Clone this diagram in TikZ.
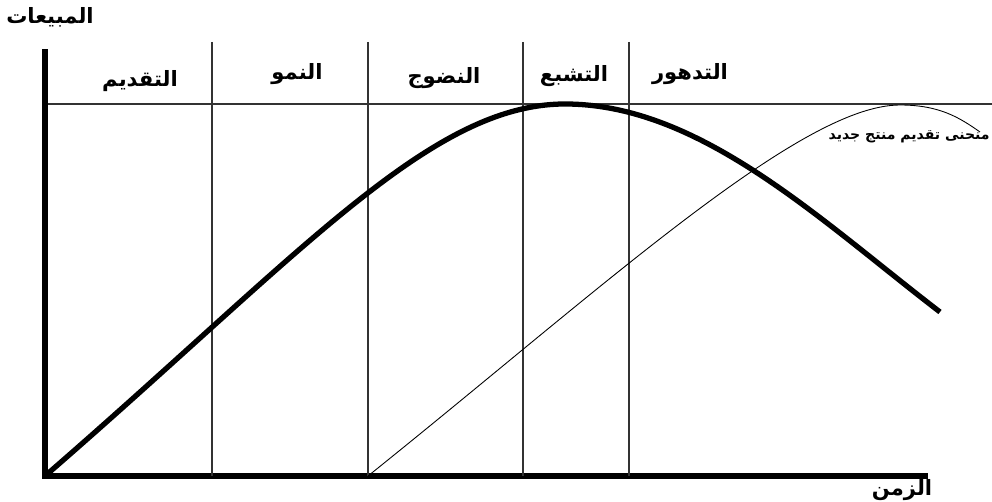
\documentclass[tikz,border=0pt]{standalone}
\usepackage{fontspec}
\newfontfamily\arabicfont[Script=Arabic]{DejaVu Sans}
\TeXXeTstate=1
\usetikzlibrary{positioning}

\begin{document}
\begin{tikzpicture}[
  x=0.02cm, y=-0.02cm,
  axis/.style={line width=3pt, line cap=rect},
  stageline/.style={line width=0.6pt, color=black!80},
  maincurve/.style={line width=3pt},
  newcurve/.style={line width=0.5pt},
  stagelabel/.style={font=\arabicfont\bfseries\large, inner sep=0pt},
]
\useasboundingbox (0,0) rectangle (992,502);

% axes
\coordinate (origin) at (45,476);
\coordinate (ytop) at (45,52);
\coordinate (xend) at (925,476);
\draw[axis] (ytop) -- (origin) -- (xend);

% saturation level
\coordinate (lvlL) at (48,104);
\coordinate (lvlR) at (992,104);
\draw[stageline] (lvlL) -- (lvlR);

% stage borders
\foreach \name/\xx in {b1/212, b2/368, b3/523, b4/629} {
  \coordinate (\name top) at (\xx,42);
  \coordinate (\name bot) at (\xx,476);
  \draw[stageline] (\name top) -- (\name bot);
}

% product life cycle
\coordinate (peak) at (565,104);
\coordinate (tail) at (940,312);
\draw[maincurve] (origin) .. controls (300,255) and (430,104) .. (peak)
  .. controls (700,104) and (820,220) .. (tail);

% new product curve
\coordinate (npeak) at (900,105);
\coordinate (nend) at (980,132);
\draw[newcurve] (b2bot) .. controls (600,290) and (800,105) .. (npeak)
  .. controls (940,105) and (960,118) .. (nend);

\node[stagelabel] (sales) at (50,17) {\beginR المبيعات\endR};
\node[stagelabel] (time) at (902,490) {\beginR الزمن\endR};
\node[stagelabel] (intro) at (140,81) {\beginR التقديم\endR};
\node[stagelabel] (growth) at (297,74) {\beginR النمو\endR};
\node[stagelabel] (maturity) at (444,78) {\beginR النضوج\endR};
\node[stagelabel] (saturation) at (574,76) {\beginR التشبع\endR};
\node[stagelabel] (decline) at (690,74) {\beginR التدهور\endR};
\node[stagelabel, font=\arabicfont\bfseries\footnotesize, anchor=east]
  (newlabel) at (990,137) {\beginR منحنى تقديم منتج جديد\endR};
\end{tikzpicture}
\end{document}
